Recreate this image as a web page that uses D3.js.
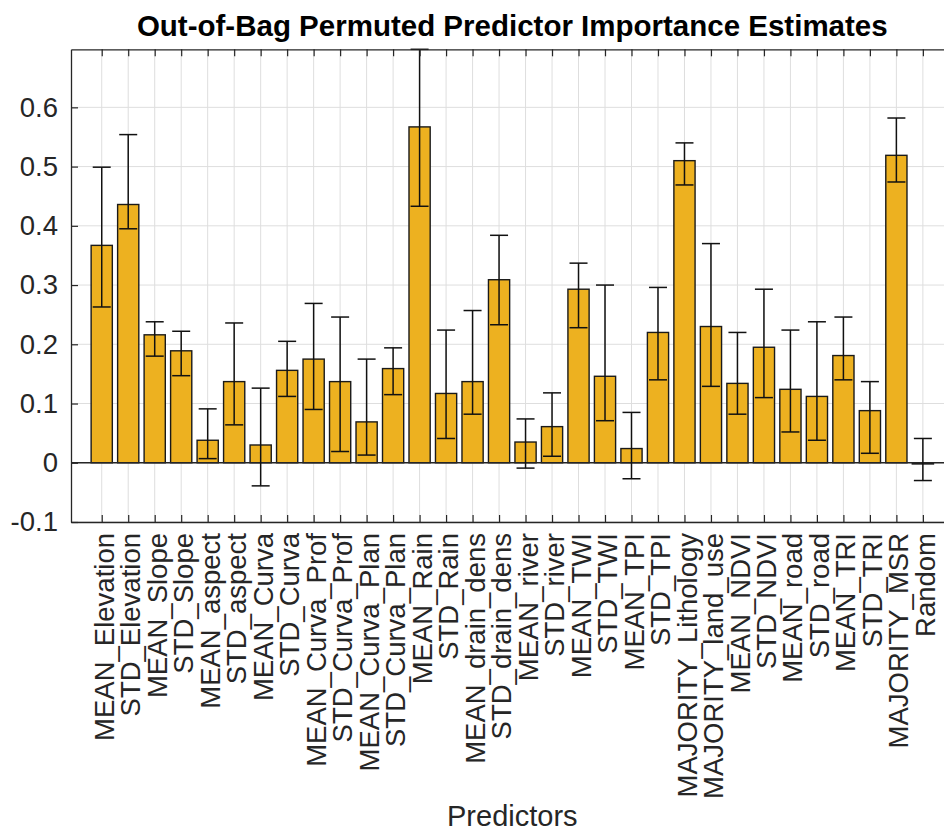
<!DOCTYPE html>
<html>
<head>
<meta charset="utf-8">
<script src="https://cdn.jsdelivr.net/npm/d3@7"></script>
<style>
  body { margin: 0; background: #fff; }
  svg { display: block; font-family: "Liberation Sans", Arial, sans-serif; }
</style>
</head>
<body>
<script>
// predictor names, in plot order
const predictors = [
  "MEAN_Elevation", "STD_Elevation", "MEAN_Slope", "STD_Slope", "MEAN_aspect", "STD_aspect",
  "MEAN_Curva", "STD_Curva", "MEAN_Curva_Prof", "STD_Curva_Prof", "MEAN_Curva_Plan", "STD_Curva_Plan",
  "MEAN_Rain", "STD_Rain", "MEAN_drain_dens", "STD_drain_dens", "MEAN_river", "STD_river",
  "MEAN_TWI", "STD_TWI", "MEAN_TPI", "STD_TPI", "MAJORITY_Lithology", "MAJORITY_land_use",
  "MEAN_NDVI", "STD_NDVI", "MEAN_road", "STD_road", "MEAN_TRI", "STD_TRI", "MAJORITY_MSR", "Random"
];

// importance estimate (bar height)
const importance = [
  0.367, 0.436, 0.216, 0.189, 0.038, 0.137,
  0.030, 0.156, 0.175, 0.137, 0.069, 0.159,
  0.567, 0.117, 0.137, 0.309, 0.035, 0.061,
  0.293, 0.146, 0.024, 0.220, 0.510, 0.230,
  0.134, 0.195, 0.124, 0.112, 0.181, 0.088, 0.519, -0.002
];

// error bar ends
const errLower = [
  0.263, 0.395, 0.180, 0.147, 0.007, 0.064,
  -0.039, 0.112, 0.090, 0.019, 0.013, 0.115,
  0.433, 0.041, 0.082, 0.233, -0.009, 0.011,
  0.228, 0.071, -0.027, 0.140, 0.469, 0.129,
  0.082, 0.110, 0.052, 0.038, 0.140, 0.016, 0.474, -0.030
];
const errUpper = [
  0.499, 0.554, 0.238, 0.222, 0.091, 0.236,
  0.126, 0.205, 0.269, 0.246, 0.175, 0.194,
  0.698, 0.224, 0.257, 0.384, 0.074, 0.118,
  0.337, 0.300, 0.085, 0.296, 0.540, 0.370,
  0.220, 0.293, 0.224, 0.238, 0.246, 0.137, 0.582, 0.041
];

const yTicks = [-0.1, 0, 0.1, 0.2, 0.3, 0.4, 0.5, 0.6];

const data = predictors.map((name, i) => ({
  name: name, value: importance[i], lo: errLower[i], hi: errUpper[i]
}));

// axes box (right side runs past the picture edge, as in the original)
const box = { left: 71, right: 953.6, top: 49.3, bottom: 522 };
const W = 944, H = 832;

const svg = d3.select("body").append("svg")
  .attr("width", W)
  .attr("height", H);

svg.append("rect").attr("width", W).attr("height", H).attr("fill", "#fff");

const x = d3.scalePoint()
  .domain(predictors)
  .range([box.left, box.right])
  .padding(1.16);

const y = d3.scaleLinear()
  .domain([-0.1, 0.698])
  .range([box.bottom, box.top]);

const step = x.step();
const barW = step * 0.8;
const capW = 18;
const axisColor = "#262626";
const fmt = d => d === 0 ? "0" : String(+d.toFixed(1));

// grid
const grid = svg.append("g").attr("stroke", "#dedede").attr("stroke-width", 1);
grid.selectAll(".gx").data(predictors).enter().append("line")
  .attr("x1", d => x(d)).attr("x2", d => x(d))
  .attr("y1", box.top).attr("y2", box.bottom);
grid.selectAll(".gy").data(yTicks).enter().append("line")
  .attr("x1", box.left).attr("x2", box.right)
  .attr("y1", d => y(d)).attr("y2", d => y(d));

// bars
svg.append("g")
  .selectAll("rect")
  .data(data)
  .enter().append("rect")
  .attr("x", d => x(d.name) - barW / 2)
  .attr("width", barW)
  .attr("y", d => y(Math.max(0, d.value)))
  .attr("height", d => Math.abs(y(d.value) - y(0)))
  .attr("fill", "#EDB120")
  .attr("stroke", "#1a1a1a")
  .attr("stroke-width", 1.4);

// baseline
svg.append("line")
  .attr("x1", box.left).attr("x2", box.right)
  .attr("y1", y(0)).attr("y2", y(0))
  .attr("stroke", axisColor).attr("stroke-width", 1.3);

// error bars
const err = svg.append("g").attr("stroke", "#111").attr("stroke-width", 1.5).attr("fill", "none");
err.selectAll(".v").data(data).enter().append("line")
  .attr("x1", d => x(d.name)).attr("x2", d => x(d.name))
  .attr("y1", d => y(d.lo)).attr("y2", d => y(d.hi));
err.selectAll(".lo").data(data).enter().append("line")
  .attr("x1", d => x(d.name) - capW / 2).attr("x2", d => x(d.name) + capW / 2)
  .attr("y1", d => y(d.lo)).attr("y2", d => y(d.lo));
err.selectAll(".hi").data(data).enter().append("line")
  .attr("x1", d => x(d.name) - capW / 2).attr("x2", d => x(d.name) + capW / 2)
  .attr("y1", d => y(d.hi)).attr("y2", d => y(d.hi));

// axes
const gx = svg.append("g")
  .attr("transform", `translate(0,${box.bottom})`)
  .call(d3.axisBottom(x).tickSizeInner(-7).tickSizeOuter(0));
gx.selectAll("text")
  .attr("transform", "rotate(-90)")
  .attr("text-anchor", "end")
  .attr("x", -11)
  .attr("y", 0)
  .attr("dy", "0.42em");

const gt = svg.append("g")
  .attr("transform", `translate(0,${box.top})`)
  .call(d3.axisTop(x).tickSizeInner(-7).tickSizeOuter(0).tickFormat(""));

const gy = svg.append("g")
  .attr("transform", `translate(${box.left},0)`)
  .call(d3.axisLeft(y).tickValues(yTicks).tickFormat(fmt).tickSizeInner(-7).tickSizeOuter(0).tickPadding(13));

[gx, gt, gy].forEach(g => {
  g.attr("font-family", null).attr("font-size", null);
  g.select(".domain").attr("stroke", axisColor).attr("stroke-width", 1.3);
  g.selectAll(".tick line").attr("stroke", axisColor).attr("stroke-width", 1.2);
  g.selectAll("text").attr("fill", axisColor).style("font-size", "27.5px");
});

// title and axis label
svg.append("text")
  .attr("x", (box.left + box.right) / 2)
  .attr("y", 36)
  .attr("text-anchor", "middle")
  .style("font-size", "29.5px")
  .style("font-weight", "bold")
  .attr("fill", "#000")
  .text("Out-of-Bag Permuted Predictor Importance Estimates");

svg.append("text")
  .attr("x", (box.left + box.right) / 2)
  .attr("y", 826)
  .attr("text-anchor", "middle")
  .style("font-size", "29px")
  .attr("fill", axisColor)
  .text("Predictors");
</script>
</body>
</html>
